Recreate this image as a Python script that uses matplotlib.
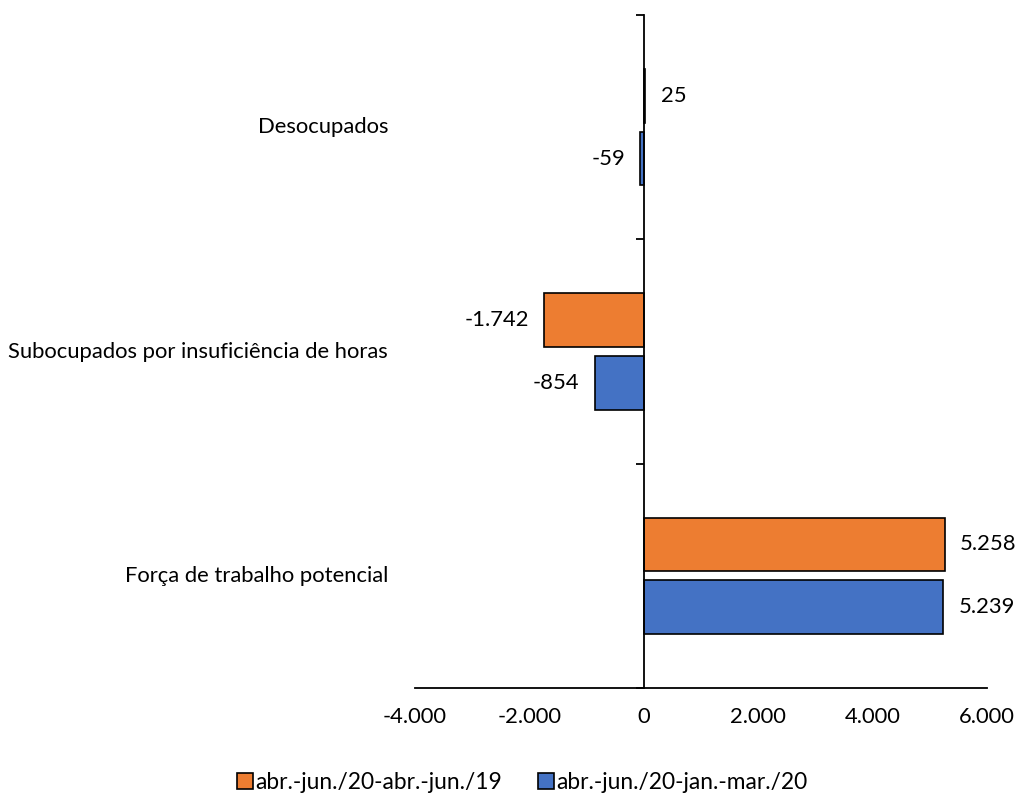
import numpy as np
import matplotlib
matplotlib.use("Agg")
from matplotlib import pyplot as plt
from matplotlib.ticker import FuncFormatter
import matplotlib.transforms as mtrans

plt.rcParams['font.family'] = ['Lato', 'DejaVu Sans']

categorias = ['Desocupados', 'Subocupados por insuficiência de horas',
              'Força de trabalho potencial']
serie_anual = [25, -1742, 5258]        # abr.-jun./20-abr.-jun./19
serie_trim = [-59, -854, 5239]         # abr.-jun./20-jan.-mar./20
nomes = ['abr.-jun./20-abr.-jun./19', 'abr.-jun./20-jan.-mar./20']
cores = ['#ED7D31', '#4472C4']
fs = 15.8


def fmt_br(v, pos=None):
    return '{:,.0f}'.format(v).replace(',', '.')


fig = plt.figure(figsize=(10.2, 7.96), dpi=100)
ax = fig.add_axes([415 / 1020, 1 - 688 / 796, 572 / 1020, 673 / 796])

n = len(categorias)
y = np.arange(n)[::-1].astype(float)   # Desocupados no topo
h = 0.24
off = 0.14

b1 = ax.barh(y + off, serie_anual, height=h, color=cores[0],
             edgecolor='black', linewidth=1.2, label=nomes[0])
b2 = ax.barh(y - off, serie_trim, height=h, color=cores[1],
             edgecolor='black', linewidth=1.2, label=nomes[1])

for bars, vals in [(b1, serie_anual), (b2, serie_trim)]:
    for b, v in zip(bars, vals):
        yc = b.get_y() + b.get_height() / 2
        if v >= 0:
            ax.annotate(fmt_br(v), (v, yc), xytext=(11, 0), textcoords='offset points',
                        ha='left', va='center', fontsize=fs)
        else:
            ax.annotate(fmt_br(v), (v, yc), xytext=(-11, 0), textcoords='offset points',
                        ha='right', va='center', fontsize=fs)

ax.set_xlim(-4000, 6000)
ax.set_ylim(-0.5, n - 0.5)
ax.set_xticks(np.arange(-4000, 6001, 2000))
ax.xaxis.set_major_formatter(FuncFormatter(fmt_br))
ax.tick_params(axis='x', length=0, pad=14, labelsize=fs)

# eixo vertical em zero com marcas entre categorias
ax.spines['left'].set_position(('data', 0))
ax.spines['right'].set_visible(False)
ax.spines['top'].set_visible(False)
ax.spines['left'].set_linewidth(1.3)
ax.spines['bottom'].set_linewidth(1.3)
ax.set_yticks([])
ax.set_yticks(np.arange(-0.5, n, 1.0), minor=True)
ax.tick_params(axis='y', which='minor', length=6, width=1.3, direction='out')
ax.tick_params(axis='y', which='major', length=0)

trans = mtrans.blended_transform_factory(ax.transAxes, ax.transData)
for yi, cat in zip(y, categorias):
    ax.text(-0.047, yi, cat, transform=trans, ha='right', va='center', fontsize=fs)

fig.legend(handles=[b1, b2], labels=nomes, loc='lower center', bbox_to_anchor=(0.512, -0.022),
           ncol=2, frameon=False, fontsize=16.4, handlelength=0.7, handleheight=0.7,
           handletextpad=0.1, columnspacing=1.55)

fig.savefig('out.png', dpi=100)
